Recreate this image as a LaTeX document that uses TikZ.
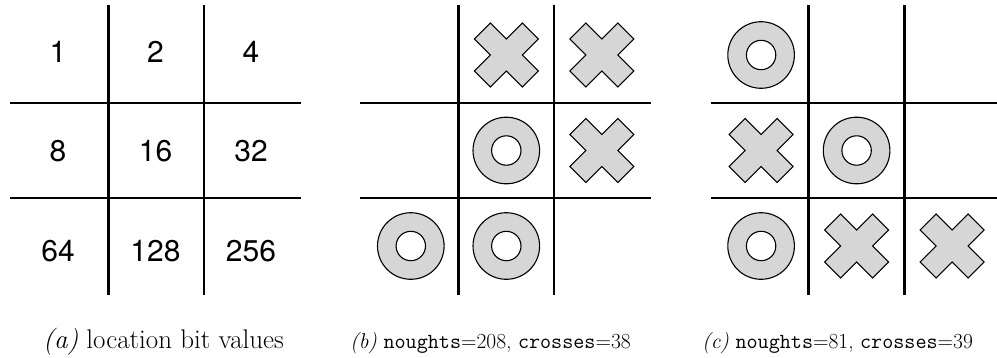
\documentclass[tikz,border=0pt]{standalone}
\usepackage{fontspec}
\newfontfamily\numfont{TeX Gyre Heros}
\definecolor{markfill}{RGB}{214,214,214}
\tikzset{
  gridline/.style={line width=2.8pt, black},
  markshape/.style={draw=black, line width=1.1pt, fill=markfill},
  bitnum/.style={font=\numfont\fontsize{30}{34}\selectfont, inner sep=0pt, anchor=center},
  captext/.style={inner sep=0pt, anchor=base west},
  pics/xmark/.style={code={
    \draw[markshape] (0,16) -- (16,32) -- (32,16) -- (16,0) -- (32,-16) -- (16,-32)
      -- (0,-16) -- (-16,-32) -- (-32,-16) -- (-16,0) -- (-32,16) -- (-16,32) -- cycle;
  }},
  pics/omark/.style={code={
    \draw[markshape, even odd rule] (0,0) circle[radius=33.3] (0,0) circle[radius=14.7];
  }}
}
\newcommand{\tttgrid}[1]{%
  \draw[gridline] (#1-47.75,5) -- (#1-47.75,295);
  \draw[gridline] (#1+47.75,5) -- (#1+47.75,295);
  \draw[gridline] (#1-146,103) -- (#1+145,103);
  \draw[gridline] (#1-146,198) -- (#1+145,198);
}
\begin{document}
\begin{tikzpicture}[x=1pt,y=-1pt]
\useasboundingbox (0,0) rectangle (997,357);
% (a)
\tttgrid{156.25}
\node[bitnum] (n1)   at (58,51.7)    {1};
\node[bitnum] (n2)   at (155.5,51.7) {2};
\node[bitnum] (n4)   at (251,51.7)   {4};
\node[bitnum] (n8)   at (58,150.8)   {8};
\node[bitnum] (n16)  at (155.5,150.8){16};
\node[bitnum] (n32)  at (251,150.8)  {32};
\node[bitnum] (n64)  at (58,250.8)   {64};
\node[bitnum] (n128) at (155.5,250.8){128};
\node[bitnum] (n256) at (251,250.8)  {256};
% (b)
\tttgrid{506.3}
\pic at (506.3,55) {xmark};
\pic at (601.8,55) {xmark};
\pic at (506.3,150.5) {omark};
\pic at (601.8,150.5) {xmark};
\pic at (410.8,246) {omark};
\pic at (506.3,246) {omark};
% (c)
\tttgrid{856.6}
\pic at (761.1,55) {omark};
\pic at (761.1,150.5) {xmark};
\pic at (856.6,150.5) {omark};
\pic at (761.1,246) {omark};
\pic at (856.6,246) {xmark};
\pic at (952.1,246) {xmark};
% captions
\node[captext, font=\fontsize{27}{31}\selectfont] (capa) at (43,348) {\textit{(a)} location bit values};
\node[captext, font=\fontsize{21.5}{26}\selectfont] (capb) at (350,348) {\textit{(b)} \texttt{noughts}=208, \texttt{crosses}=38};
\node[captext, font=\fontsize{21.5}{26}\selectfont] (capc) at (702,348) {\textit{(c)} \texttt{noughts}=81, \texttt{crosses}=39};
\end{tikzpicture}
\end{document}
